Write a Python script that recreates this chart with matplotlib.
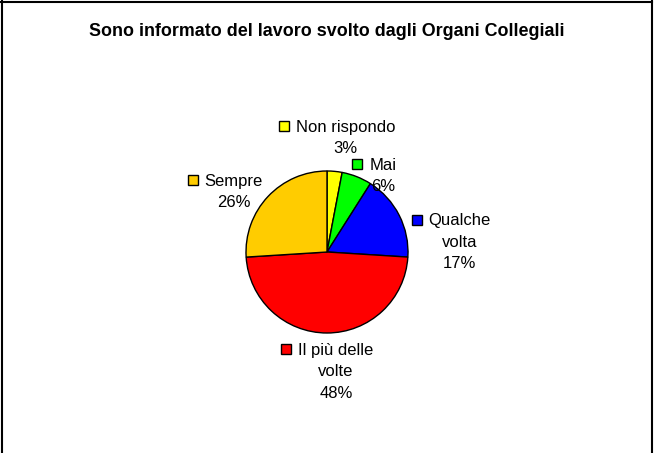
import matplotlib
matplotlib.use("Agg")
import matplotlib.pyplot as plt
from matplotlib.lines import Line2D

plt.rcParams['font.family'] = ['Liberation Sans', 'DejaVu Sans']

title = "Sono informato del lavoro svolto dagli Organi Collegiali"
categories = ["Non rispondo", "Mai", "Qualche volta", "Il più delle volte", "Sempre"]
label_lines = [["Non rispondo"], ["Mai"], ["Qualche", "volta"], ["Il più delle", "volte"], ["Sempre"]]
values = [3, 6, 17, 48, 26]
colors = ["#FFFF00", "#00FF00", "#0000FF", "#FF0000", "#FFCC00"]

# label block centres, in pie radii from the pie centre (layout only)
label_pos = [(0.23, 1.41), (0.69, 0.94), (1.64, 0.12), (0.11, -1.48), (-1.15, 0.74)]

W, H = 654, 453
cx, cy, R = 327, 252, 81  # pie centre / radius in pixels

fig = plt.figure(figsize=(W / 100, H / 100), dpi=100)
ax = fig.add_axes([0, 0, 1, 1])
ax.pie(values, colors=colors, startangle=90, counterclock=False, radius=1,
       wedgeprops=dict(edgecolor="black", linewidth=1.0))
ax.set_xlim(-cx / R, (W - cx) / R)
ax.set_ylim(-(H - cy) / R, cy / R)
ax.set_aspect("auto")
ax.axis("off")

fig.text(0.5, 1 - 31 / H, title, ha="center", va="center", fontsize=12.9, fontweight="bold")

fig.canvas.draw()
renderer = fig.canvas.get_renderer()
line_h = 21.5 / R
fs = 12
for lines, val, col, (lx, ly) in zip(label_lines, values, colors, label_pos):
    all_lines = lines + [f"{val}%"]
    n = len(all_lines)
    y0 = ly + (n - 1) / 2 * line_h
    first = None
    for i, s in enumerate(all_lines):
        t = ax.text(lx, y0 - i * line_h, s, ha="center", va="center", fontsize=fs, color="black")
        if i == 0:
            first = t
    bb = first.get_window_extent(renderer=renderer)
    kx = bb.x0 - 12
    ky = (bb.y0 + bb.y1) / 2 + 1
    xd, yd = ax.transData.inverted().transform((kx, ky))
    ax.plot([xd], [yd], marker="s", markersize=7.5, markerfacecolor=col,
            markeredgecolor="black", markeredgewidth=1.0, linestyle="none")

# outer frame (left, top, right)
fig.add_artist(Line2D([1.5 / W, 1.5 / W], [0, 1], color="black", linewidth=1.5, transform=fig.transFigure))
fig.add_artist(Line2D([0, 651.5 / W], [1 - 1.5 / H, 1 - 1.5 / H], color="black", linewidth=1.5, transform=fig.transFigure))
fig.add_artist(Line2D([651.5 / W, 651.5 / W], [0, 1], color="black", linewidth=1.5, transform=fig.transFigure))

fig.savefig("out.png", dpi=100)
